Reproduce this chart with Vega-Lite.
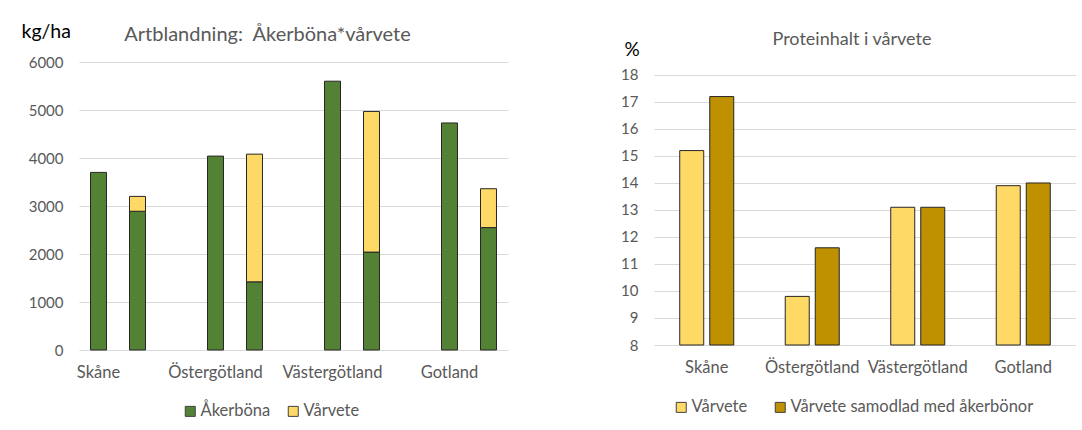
{
  "$schema": "https://vega.github.io/schema/vega-lite/v6.json",
  "padding": {"left": 21, "top": 21, "right": 0, "bottom": 0},
  "background": "white",
  "spacing": 112,
  "resolve": {"scale": {"color": "independent"}, "legend": {"color": "independent"}},
  "config": {
    "font": "Lato",
    "view": {"stroke": null},
    "axis": {"labelColor": "#595959", "labelFont": "Lato", "gridColor": "#d9d9d9", "gridWidth": 1, "domain": false, "ticks": false, "tickSize": 0},
    "legend": {"labelFont": "Lato", "labelColor": "#595959", "labelLimit": 400},
    "title": {"font": "Lato", "fontWeight": "normal", "color": "#595959"}
  },
  "hconcat": [
    {
      "width": 429,
      "height": 288,
      "title": {"text": "Artblandning: \u00a0Åkerböna*vårvete", "fontSize": 20, "anchor": "middle", "dx": -26, "offset": -24},
      "data": {"values": [
        {"slot": "Skåne", "art": "Åkerböna", "kg": 3700},
        {"slot": "Skåne·", "art": "Åkerböna", "kg": 2890},
        {"slot": "Skåne·", "art": "Vårvete", "kg": 310},
        {"slot": "Östergötland", "art": "Åkerböna", "kg": 4040},
        {"slot": "Östergötland·", "art": "Åkerböna", "kg": 1420},
        {"slot": "Östergötland·", "art": "Vårvete", "kg": 2660},
        {"slot": "Västergötland", "art": "Åkerböna", "kg": 5600},
        {"slot": "Västergötland·", "art": "Åkerböna", "kg": 2040},
        {"slot": "Västergötland·", "art": "Vårvete", "kg": 2930},
        {"slot": "Gotland", "art": "Åkerböna", "kg": 4730},
        {"slot": "Gotland·", "art": "Åkerböna", "kg": 2550},
        {"slot": "Gotland·", "art": "Vårvete", "kg": 810}
      ]},
      "mark": {"type": "bar", "stroke": "#262626", "strokeWidth": 1},
      "encoding": {
        "x": {
          "field": "slot", "type": "nominal",
          "scale": {"domain": ["Skåne", "Skåne·", "·1", "Östergötland", "Östergötland·", "·2", "Västergötland", "Västergötland·", "·3", "Gotland", "Gotland·"], "paddingInner": 0.59, "paddingOuter": 0.295},
          "axis": {"title": null, "labelAngle": 0, "labelOverlap": false, "labelExpr": "indexof(datum.label, '·') >= 0 ? '' : datum.label", "labelFontSize": 16.5, "labelPadding": 14, "grid": false}
        },
        "y": {
          "field": "kg", "type": "quantitative", "stack": "zero",
          "scale": {"domain": [0, 6000], "nice": false},
          "axis": {"values": [0, 1000, 2000, 3000, 4000, 5000, 6000], "format": "d", "grid": true, "labelFontSize": 15, "labelPadding": 16,
            "title": "kg/ha", "titleAngle": 0, "titleAlign": "left", "titleBaseline": "middle", "titleX": -58, "titleY": -31, "titleFontSize": 19.5, "titleFontWeight": "normal", "titleColor": "#000000"}
        },
        "color": {
          "field": "art", "type": "nominal", "sort": ["Åkerböna", "Vårvete"],
          "scale": {"domain": ["Åkerböna", "Vårvete"], "range": ["#548235", "#FFD966"]},
          "legend": {"title": null, "orient": "none", "direction": "horizontal", "legendX": 103, "legendY": 341, "symbolType": "square", "symbolSize": 100, "symbolStrokeColor": "#404040", "symbolStrokeWidth": 1, "labelFontSize": 16.5, "labelOffset": 2, "columnPadding": 14}
        }
      }
    },
    {
      "width": 422,
      "height": 283,
      "title": {"text": "Proteinhalt i vårvete", "fontSize": 18, "anchor": "middle", "dx": -13, "offset": -9},
      "data": {"values": [
        {"region": "Skåne", "sort": "Vårvete", "protein": 15.2},
        {"region": "Skåne", "sort": "Vårvete samodlad med åkerbönor", "protein": 17.2},
        {"region": "Östergötland", "sort": "Vårvete", "protein": 9.8},
        {"region": "Östergötland", "sort": "Vårvete samodlad med åkerbönor", "protein": 11.6},
        {"region": "Västergötland", "sort": "Vårvete", "protein": 13.1},
        {"region": "Västergötland", "sort": "Vårvete samodlad med åkerbönor", "protein": 13.1},
        {"region": "Gotland", "sort": "Vårvete", "protein": 13.9},
        {"region": "Gotland", "sort": "Vårvete samodlad med åkerbönor", "protein": 14.0}
      ]},
      "mark": {"type": "bar", "stroke": "#262626", "strokeWidth": 1},
      "encoding": {
        "x": {
          "field": "region", "type": "nominal",
          "scale": {"domain": ["Skåne", "Östergötland", "Västergötland", "Gotland"], "paddingInner": 0.488, "paddingOuter": 0.244},
          "axis": {"title": null, "labelAngle": 0, "labelOverlap": false, "labelFontSize": 16.5, "labelPadding": 14, "grid": false}
        },
        "xOffset": {
          "field": "sort", "type": "nominal",
          "scale": {"domain": ["Vårvete", "Vårvete samodlad med åkerbönor"], "paddingInner": 0.2, "paddingOuter": 0}
        },
        "y": {
          "field": "protein", "type": "quantitative", "stack": null,
          "scale": {"domain": [8, 18.48], "nice": false, "zero": false},
          "axis": {"values": [8, 9, 10, 11, 12, 13, 14, 15, 16, 17, 18], "grid": true, "labelFontSize": 15, "labelPadding": 16,
            "title": "%", "titleAngle": 0, "titleAlign": "left", "titleBaseline": "middle", "titleX": -30, "titleY": -13, "titleFontSize": 19, "titleFontWeight": "normal", "titleColor": "#000000"}
        },
        "color": {
          "field": "sort", "type": "nominal",
          "scale": {"domain": ["Vårvete", "Vårvete samodlad med åkerbönor"], "range": ["#FFD966", "#BF9000"]},
          "legend": {"title": null, "orient": "none", "direction": "horizontal", "legendX": 19, "legendY": 337, "symbolType": "square", "symbolSize": 100, "symbolStrokeColor": "#404040", "symbolStrokeWidth": 1, "labelFontSize": 16.5, "labelOffset": 2, "columnPadding": 24}
        }
      }
    }
  ]
}
